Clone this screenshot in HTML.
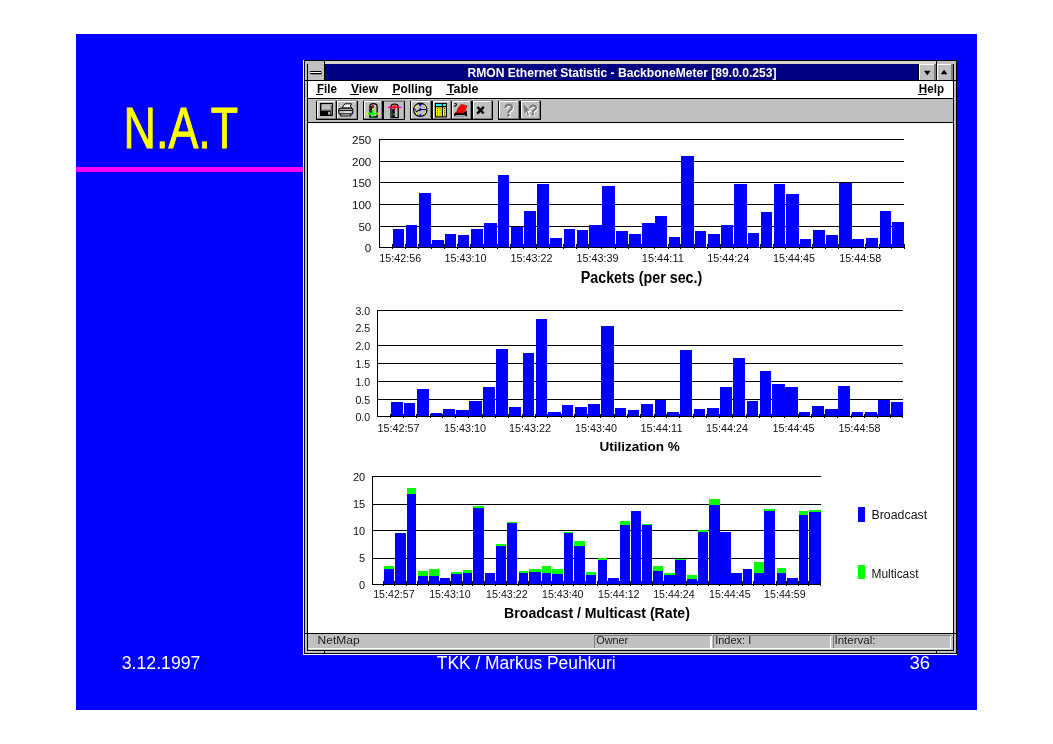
<!DOCTYPE html>
<html lang="en"><head><meta charset="utf-8"><title>N.A.T - RMON Ethernet Statistic</title>
<style>html,body{margin:0;padding:0;background:#fff;overflow:hidden}svg{display:block}text{font-family:"Liberation Sans",Arial,Helvetica,sans-serif;white-space:pre}</style></head><body>
<svg width="1053" height="744" viewBox="0 0 1053 744" shape-rendering="crispEdges">
<rect x="0" y="0" width="1053" height="744" fill="#fff" />
<rect x="76" y="34" width="901" height="676" fill="#0000ff" />
<text x="123.6" y="147.7" font-size="58" fill="#ffff00" font-weight="normal" text-anchor="start" textLength="114.5" lengthAdjust="spacingAndGlyphs" stroke="#ffff00" stroke-width="0.9" shape-rendering="auto">N.A.T</text>
<rect x="76" y="167" width="228" height="5" fill="#ff00ff" />
<text x="121.8" y="669.3" font-size="17.5" fill="#fff" font-weight="normal" text-anchor="start" textLength="78.6" lengthAdjust="spacingAndGlyphs" >3.12.1997</text>
<text x="436.8" y="669.3" font-size="17.5" fill="#fff" font-weight="normal" text-anchor="start" textLength="178.8" lengthAdjust="spacingAndGlyphs" >TKK / Markus Peuhkuri</text>
<text x="909.4" y="669.3" font-size="17.5" fill="#fff" font-weight="normal" text-anchor="start" textLength="20.6" lengthAdjust="spacingAndGlyphs" >36</text>
<rect x="303" y="60" width="654" height="595" fill="#fff" />
<rect x="304" y="60" width="653" height="594" fill="#000" />
<rect x="305" y="61" width="651" height="592" fill="#c0c0c0" />
<rect x="325" y="61" width="611" height="3" fill="#d6d6ce" />
<rect x="307" y="64" width="647" height="587" fill="#000" />
<rect x="305" y="80" width="2" height="1" fill="#000" />
<rect x="936" y="61" width="1" height="3" fill="#000" />
<rect x="324" y="61" width="1" height="3" fill="#000" />
<rect x="305" y="633" width="2" height="1" fill="#000" />
<rect x="936" y="651" width="1" height="2" fill="#000" />
<rect x="324" y="651" width="1" height="2" fill="#000" />
<rect x="954" y="633" width="2" height="1" fill="#000" />
<rect x="954" y="80" width="2" height="1" fill="#000" />
<rect x="308" y="64" width="645" height="16" fill="#000080" />
<rect x="308" y="61" width="16" height="19" fill="#c0c0c0" />
<rect x="324" y="64" width="1" height="16" fill="#000" />
<rect x="311" y="74" width="10.8" height="0.8" fill="#808080" />
<rect x="321.2" y="72" width="0.7" height="2.8" fill="#808080" />
<rect x="310.4" y="71.5" width="10.3" height="2" fill="#fff" stroke="#000" stroke-width="1" shape-rendering="auto"/>
<text x="622" y="77.4" font-size="13.2" fill="#fff" font-weight="bold" text-anchor="middle" textLength="309" lengthAdjust="spacingAndGlyphs" >RMON Ethernet Statistic - BackboneMeter [89.0.0.253]</text>
<rect x="918" y="64" width="1" height="16" fill="#000" />
<rect x="919" y="64" width="17" height="16" fill="#c0c0c0" />
<rect x="919" y="64" width="15.4" height="1.1" fill="#fff" />
<rect x="919" y="64" width="1.1" height="16" fill="#fff" />
<rect x="934.3" y="64" width="1.7" height="16" fill="#808080" />
<polygon points="924.0,70.8 930.5999999999999,70.8 927.3,75.2" fill="#000" shape-rendering="auto"/>
<rect x="936" y="64" width="1" height="16" fill="#000" />
<rect x="937" y="64" width="16" height="16" fill="#c0c0c0" />
<rect x="937" y="64" width="14.4" height="1.1" fill="#fff" />
<rect x="937" y="64" width="1.1" height="16" fill="#fff" />
<rect x="951.3" y="64" width="1.7" height="16" fill="#808080" />
<polygon points="940.8,74.2 947.3999999999999,74.2 944.0999999999999,69.8" fill="#000" shape-rendering="auto"/>
<rect x="308" y="81" width="645" height="17" fill="#fff" />
<text x="316.9" y="93" font-size="13.2" fill="#000" font-weight="bold" text-anchor="start" textLength="20" lengthAdjust="spacingAndGlyphs" >File</text>
<rect x="316.3" y="94.2" width="7" height="1" fill="#000" />
<text x="351" y="93" font-size="13.2" fill="#000" font-weight="bold" text-anchor="start" textLength="27" lengthAdjust="spacingAndGlyphs" >View</text>
<rect x="350.4" y="94.2" width="8.4" height="1" fill="#000" />
<text x="392.6" y="93" font-size="13.2" fill="#000" font-weight="bold" text-anchor="start" textLength="39.7" lengthAdjust="spacingAndGlyphs" >Polling</text>
<rect x="392" y="94.2" width="8.4" height="1" fill="#000" />
<text x="446.9" y="93" font-size="13.2" fill="#000" font-weight="bold" text-anchor="start" textLength="31.6" lengthAdjust="spacingAndGlyphs" >Table</text>
<rect x="446.3" y="94.2" width="8" height="1" fill="#000" />
<text x="918.8" y="93" font-size="13.2" fill="#000" font-weight="bold" text-anchor="start" textLength="25.2" lengthAdjust="spacingAndGlyphs" >Help</text>
<rect x="918.2" y="94.2" width="8.8" height="1" fill="#000" />
<rect x="308" y="99" width="645" height="23" fill="#c0c0c0" />
<rect x="308" y="123" width="645" height="510" fill="#fff" />
<rect x="308" y="634" width="645" height="16" fill="#c0c0c0" />
<rect x="308" y="648.2" width="643" height="1.2" fill="#fff" />
<rect x="594.4" y="634.6" width="117.2" height="1" fill="#808080" />
<rect x="594.4" y="634.6" width="1" height="13.6" fill="#808080" />
<rect x="710.4" y="635.6" width="1.2" height="13.6" fill="#fff" />
<rect x="713" y="634.6" width="118.2" height="1" fill="#808080" />
<rect x="713" y="634.6" width="1" height="13.6" fill="#808080" />
<rect x="830" y="635.6" width="1.2" height="13.6" fill="#fff" />
<rect x="832.6" y="634.6" width="118.4" height="1" fill="#808080" />
<rect x="832.6" y="634.6" width="1" height="13.6" fill="#808080" />
<rect x="949.8" y="635.6" width="1.2" height="13.6" fill="#fff" />
<text x="317.6" y="644.2" font-size="11" fill="#222" font-weight="normal" text-anchor="start" textLength="42" lengthAdjust="spacingAndGlyphs" >NetMap</text>
<text x="596.2" y="644.2" font-size="11" fill="#222" font-weight="normal" text-anchor="start" textLength="32" lengthAdjust="spacingAndGlyphs" >Owner</text>
<text x="715.2" y="644.2" font-size="11" fill="#222" font-weight="normal" text-anchor="start" textLength="36" lengthAdjust="spacingAndGlyphs" >Index: I</text>
<text x="834.5" y="644.2" font-size="11" fill="#222" font-weight="normal" text-anchor="start" textLength="41" lengthAdjust="spacingAndGlyphs" >Interval:</text>
<rect x="315.9" y="101" width="20.9" height="18.7" fill="#c0c0c0" />
<rect x="315.9" y="100" width="20.9" height="1" fill="#989898" />
<rect x="315.9" y="100.5" width="1" height="19.2" fill="#000" />
<rect x="335.8" y="100.5" width="1" height="19.2" fill="#000" />
<rect x="315.9" y="118.7" width="20.9" height="1" fill="#000" />
<rect x="316.9" y="101" width="17.9" height="1" fill="#fff" />
<rect x="316.9" y="101" width="1" height="16.7" fill="#fff" />
<rect x="334.8" y="101" width="1" height="17.7" fill="#808080" />
<rect x="316.9" y="117.7" width="18.9" height="1" fill="#808080" />
<rect x="335.8" y="101" width="22.1" height="18.7" fill="#c0c0c0" />
<rect x="335.8" y="100" width="22.1" height="1" fill="#989898" />
<rect x="335.8" y="100.5" width="1" height="19.2" fill="#000" />
<rect x="356.9" y="100.5" width="1" height="19.2" fill="#000" />
<rect x="335.8" y="118.7" width="22.1" height="1" fill="#000" />
<rect x="336.8" y="101" width="19.1" height="1" fill="#fff" />
<rect x="336.8" y="101" width="1" height="16.7" fill="#fff" />
<rect x="355.9" y="101" width="1" height="17.7" fill="#808080" />
<rect x="336.8" y="117.7" width="20.1" height="1" fill="#808080" />
<rect x="363.1" y="101" width="20.2" height="18.7" fill="#c0c0c0" />
<rect x="363.1" y="100" width="20.2" height="1" fill="#989898" />
<rect x="363.1" y="100.5" width="1" height="19.2" fill="#000" />
<rect x="382.3" y="100.5" width="1" height="19.2" fill="#000" />
<rect x="363.1" y="118.7" width="20.2" height="1" fill="#000" />
<rect x="364.1" y="101" width="17.2" height="1" fill="#fff" />
<rect x="364.1" y="101" width="1" height="16.7" fill="#fff" />
<rect x="381.3" y="101" width="1" height="17.7" fill="#808080" />
<rect x="364.1" y="117.7" width="18.2" height="1" fill="#808080" />
<rect x="383" y="101" width="22" height="18.7" fill="#c0c0c0" />
<rect x="383" y="100" width="22" height="1" fill="#989898" />
<rect x="383" y="100.5" width="1" height="19.2" fill="#000" />
<rect x="404" y="100.5" width="1" height="19.2" fill="#000" />
<rect x="383" y="118.7" width="22" height="1" fill="#000" />
<rect x="384" y="101" width="20" height="0.8" fill="#808080" />
<rect x="403" y="101" width="1" height="17.7" fill="#a0a0a0" />
<rect x="410.3" y="101" width="21.6" height="18.7" fill="#c0c0c0" />
<rect x="410.3" y="100" width="21.6" height="1" fill="#989898" />
<rect x="410.3" y="100.5" width="1" height="19.2" fill="#000" />
<rect x="430.9" y="100.5" width="1" height="19.2" fill="#000" />
<rect x="410.3" y="118.7" width="21.6" height="1" fill="#000" />
<rect x="411.3" y="101" width="18.6" height="1" fill="#fff" />
<rect x="411.3" y="101" width="1" height="16.7" fill="#fff" />
<rect x="429.9" y="101" width="1" height="17.7" fill="#808080" />
<rect x="411.3" y="117.7" width="19.6" height="1" fill="#808080" />
<rect x="431.9" y="101" width="20.3" height="18.7" fill="#c0c0c0" />
<rect x="431.9" y="100" width="20.3" height="1" fill="#989898" />
<rect x="431.9" y="100.5" width="1" height="19.2" fill="#000" />
<rect x="451.2" y="100.5" width="1" height="19.2" fill="#000" />
<rect x="431.9" y="118.7" width="20.3" height="1" fill="#000" />
<rect x="432.9" y="101" width="17.3" height="1" fill="#fff" />
<rect x="432.9" y="101" width="1" height="16.7" fill="#fff" />
<rect x="450.2" y="101" width="1" height="17.7" fill="#808080" />
<rect x="432.9" y="117.7" width="18.3" height="1" fill="#808080" />
<rect x="451.4" y="101" width="20.8" height="18.7" fill="#c0c0c0" />
<rect x="451.4" y="100" width="20.8" height="1" fill="#989898" />
<rect x="451.4" y="100.5" width="1" height="19.2" fill="#000" />
<rect x="471.2" y="100.5" width="1" height="19.2" fill="#000" />
<rect x="451.4" y="118.7" width="20.8" height="1" fill="#000" />
<rect x="452.4" y="101" width="17.8" height="1" fill="#fff" />
<rect x="452.4" y="101" width="1" height="16.7" fill="#fff" />
<rect x="470.2" y="101" width="1" height="17.7" fill="#808080" />
<rect x="452.4" y="117.7" width="18.8" height="1" fill="#808080" />
<rect x="472.1" y="101" width="20.6" height="18.7" fill="#c0c0c0" />
<rect x="472.1" y="100" width="20.6" height="1" fill="#989898" />
<rect x="472.1" y="100.5" width="1" height="19.2" fill="#000" />
<rect x="491.7" y="100.5" width="1" height="19.2" fill="#000" />
<rect x="472.1" y="118.7" width="20.6" height="1" fill="#000" />
<rect x="473.1" y="101" width="17.6" height="1" fill="#fff" />
<rect x="473.1" y="101" width="1" height="16.7" fill="#fff" />
<rect x="490.7" y="101" width="1" height="17.7" fill="#808080" />
<rect x="473.1" y="117.7" width="18.6" height="1" fill="#808080" />
<rect x="498.3" y="101" width="21.3" height="18.7" fill="#c0c0c0" />
<rect x="498.3" y="100" width="21.3" height="1" fill="#989898" />
<rect x="498.3" y="100.5" width="1" height="19.2" fill="#000" />
<rect x="518.6" y="100.5" width="1" height="19.2" fill="#000" />
<rect x="498.3" y="118.7" width="21.3" height="1" fill="#000" />
<rect x="499.3" y="101" width="18.3" height="1" fill="#fff" />
<rect x="499.3" y="101" width="1" height="16.7" fill="#fff" />
<rect x="517.6" y="101" width="1" height="17.7" fill="#808080" />
<rect x="499.3" y="117.7" width="19.3" height="1" fill="#808080" />
<rect x="520" y="101" width="20.8" height="18.7" fill="#c0c0c0" />
<rect x="520" y="100" width="20.8" height="1" fill="#989898" />
<rect x="520" y="100.5" width="1" height="19.2" fill="#000" />
<rect x="539.8" y="100.5" width="1" height="19.2" fill="#000" />
<rect x="520" y="118.7" width="20.8" height="1" fill="#000" />
<rect x="521" y="101" width="17.8" height="1" fill="#fff" />
<rect x="521" y="101" width="1" height="16.7" fill="#fff" />
<rect x="538.8" y="101" width="1" height="17.7" fill="#808080" />
<rect x="521" y="117.7" width="18.8" height="1" fill="#808080" />
<g shape-rendering="auto">
<rect x="320.6" y="103.5" width="11.7" height="12" fill="#808080" stroke="#000" stroke-width="1.1"/>
<rect x="321.9" y="104.3" width="8.7" height="4.7" fill="#c0c0c0" />
<rect x="321.2" y="109.6" width="9.6" height="1" fill="#c0c0c0" />
<rect x="321" y="110.6" width="9.6" height="4.8" fill="#000" />
<rect x="328.1" y="111.8" width="1.9" height="2.8" fill="#c0c0c0" />
<rect x="331.2" y="104.2" width="0.8" height="0.8" fill="#fff" />
<path d="M342.3,108 l1.2,-2.4 l1.4,-1.8 h6.6 l-1.2,2.2 l1.6,2 z" fill="#fff" stroke="#000" stroke-width="1"/>
<rect x="338.8" y="108.2" width="14" height="6" rx="1.8" fill="#c0c0c0" stroke="#000" stroke-width="1.1"/>
<path d="M339.4,110.4 h12.8" stroke="#000" stroke-width="1"/>
<rect x="340.8" y="113.9" width="10" height="2" fill="#fff" stroke="#000" stroke-width="1"/>
<rect x="344.6" y="111.6" width="5.3" height="1" fill="#fff" />
<path d="M369.9,117 v-11 q0,-2.4 3.6,-2.4 q3.6,0 3.6,2.4 v11 z" fill="#c0c0c0" stroke="#000" stroke-width="1.3"/>
<rect x="370.6" y="106" width="1.8" height="8" fill="#000" />
<rect x="372.3" y="105" width="1.6" height="3" fill="#c00000" />
<rect x="372" y="108.6" width="1.5" height="1.4" fill="#e0e000" />
<rect x="365.9" y="112.8" width="13.9" height="1.5" fill="#ffff00" />
<rect x="371.7" y="110" width="1.8" height="7.3" fill="#00ff00" />
<rect x="367.9" y="112.8" width="9.9" height="1.5" fill="#00ff00" />
<path d="M391,117.6 v-11 q0,-2.4 3.6,-2.4 q3.6,0 3.6,2.4 v11 z" fill="#c0c0c0" stroke="#000" stroke-width="1.3"/>
<rect x="392.2" y="109" width="2.6" height="8" fill="#000" />
<rect x="394" y="109.6" width="1" height="1" fill="#ff00ff" />
<rect x="393" y="113" width="2" height="2.4" fill="#008000" />
<rect x="387.9" y="106.6" width="13.4" height="1.5" fill="#ff00ff" />
<rect x="393.6" y="103.9" width="1.7" height="5.1" fill="#ff0000" />
<rect x="390" y="106.6" width="9.3" height="1.5" fill="#ff0000" />
<circle cx="420.3" cy="109.8" r="6.7" fill="#c0c0c0" stroke="#000" stroke-width="1.2"/>
<path d="M418.4,104 h3.8 l-1.9,2.7 z" fill="#0000ff"/>
<path d="M420.3,114 v2 M414.3,109.6 h1.7 M424.9,109.6 h1.4 M420.3,108 v3" stroke="#0000ff" stroke-width="1.4"/>
<path d="M416,105.4 l.9,.9 M424.7,105.4 l-.9,.9 M416,114.2 l.9,-.9 M424.7,114.2 l-.9,-.9 M414.8,107.2 h1 M414.8,112.2 h1 M425,107.2 h1 M425,112.2 h1" stroke="#ffff00" stroke-width="1.3"/>
<path d="M420.4,109.5 h4.8 M420.4,109.6 l-4.8,2.5" stroke="#000" stroke-width="1.1"/>
<rect x="435.4" y="103.5" width="11" height="13.4" fill="#ffff00" stroke="#000" stroke-width="1.1"/>
<rect x="436" y="103.9" width="5.9" height="2" fill="#00ffff" />
<rect x="443" y="103.9" width="3" height="2" fill="#00ffff" />
<path d="M442.4,103.4 v13.6 M435.4,106.6 h11" stroke="#000" stroke-width="1.1"/>
<path d="M437.6,108 v8.6 M440,108 v8.6 M444.6,108 v8.6" stroke="#000" stroke-width=".9" stroke-dasharray="1,1.2"/>
<path d="M454.2,116.2 v-2.4 l1.6,-1.6 l8,.4 l3,-2 l.4,5.6 z" fill="#000"/>
<path d="M456.2,113 l1.6,-4.6 l3.4,-4.2 l6,1.5 l-1.4,4 l-2.2,3.5 z" fill="#ff0000" stroke="#800000" stroke-width=".4"/>
<rect x="455.4" y="115" width="10" height="0.9" fill="#c0c0c0" />
<path d="M454.4,103.6 h2 v2 h-1.6 v1.6" stroke="#000" stroke-width=".9" fill="none"/>
<path d="M477.4,107 l6.2,6.4 M483.8,106.8 l-6.6,6.8" stroke="#000" stroke-width="2.4"/>
<text x="509.6" y="117" font-size="16" text-anchor="middle" fill="#fff" stroke="#fff" stroke-width=".6">?</text>
<text x="508.7" y="116.2" font-size="16" text-anchor="middle" fill="#808080" stroke="#787878" stroke-width=".8">?</text>
<path d="M524.2,104.6 l1,9.8 l1.6,-2.6 l1.8,4.2 l1.2,-.6 l-1.6,-4 l2.6,-.6 z" fill="#fff" transform="translate(.8,.8)"/>
<path d="M523.4,104.2 l1,9.8 l1.6,-2.6 l1.8,4.2 l1.2,-.6 l-1.6,-4 l2.6,-.6 z" fill="#808080"/>
<text x="533.8" y="115.8" font-size="14.5" text-anchor="middle" fill="#fff" stroke="#fff" stroke-width=".6">?</text>
<text x="533" y="115" font-size="14.5" text-anchor="middle" fill="#808080" stroke="#787878" stroke-width=".8">?</text>
</g>
<rect x="379" y="139" width="525.3" height="1.1" fill="#000" />
<rect x="379" y="161" width="525.3" height="1.1" fill="#000" />
<rect x="379" y="182.2" width="525.3" height="1.1" fill="#000" />
<rect x="379" y="204" width="525.3" height="1.1" fill="#000" />
<rect x="379" y="225.7" width="525.3" height="1.1" fill="#000" />
<rect x="379" y="246.7" width="525.3" height="1.1" fill="#000" />
<rect x="379" y="139" width="1.1" height="108.8" fill="#000" />
<rect x="392" y="244" width="1" height="4.6" fill="#000" />
<rect x="405" y="244" width="1" height="4.6" fill="#000" />
<rect x="418.3" y="244" width="1" height="4.6" fill="#000" />
<rect x="431.3" y="244" width="1" height="4.6" fill="#000" />
<rect x="444.2" y="244" width="1" height="4.6" fill="#000" />
<rect x="457.2" y="244" width="1" height="4.6" fill="#000" />
<rect x="470.2" y="244" width="1" height="4.6" fill="#000" />
<rect x="483.2" y="244" width="1" height="4.6" fill="#000" />
<rect x="497.2" y="244" width="1" height="4.6" fill="#000" />
<rect x="510.2" y="244" width="1" height="4.6" fill="#000" />
<rect x="523.2" y="244" width="1" height="4.6" fill="#000" />
<rect x="536.2" y="244" width="1" height="4.6" fill="#000" />
<rect x="549.1" y="244" width="1" height="4.6" fill="#000" />
<rect x="563.1" y="244" width="1" height="4.6" fill="#000" />
<rect x="576.1" y="244" width="1" height="4.6" fill="#000" />
<rect x="588.1" y="244" width="1" height="4.6" fill="#000" />
<rect x="601.1" y="244" width="1" height="4.6" fill="#000" />
<rect x="615.3" y="244" width="1" height="4.6" fill="#000" />
<rect x="628.3" y="244" width="1" height="4.6" fill="#000" />
<rect x="641.3" y="244" width="1" height="4.6" fill="#000" />
<rect x="654.1" y="244" width="1" height="4.6" fill="#000" />
<rect x="668.3" y="244" width="1" height="4.6" fill="#000" />
<rect x="680.3" y="244" width="1" height="4.6" fill="#000" />
<rect x="694.2" y="244" width="1" height="4.6" fill="#000" />
<rect x="707.2" y="244" width="1" height="4.6" fill="#000" />
<rect x="720.2" y="244" width="1" height="4.6" fill="#000" />
<rect x="733.2" y="244" width="1" height="4.6" fill="#000" />
<rect x="747.2" y="244" width="1" height="4.6" fill="#000" />
<rect x="760.2" y="244" width="1" height="4.6" fill="#000" />
<rect x="773.2" y="244" width="1" height="4.6" fill="#000" />
<rect x="785.1" y="244" width="1" height="4.6" fill="#000" />
<rect x="799.1" y="244" width="1" height="4.6" fill="#000" />
<rect x="812.1" y="244" width="1" height="4.6" fill="#000" />
<rect x="825.1" y="244" width="1" height="4.6" fill="#000" />
<rect x="838.3" y="244" width="1" height="4.6" fill="#000" />
<rect x="851" y="244" width="1" height="4.6" fill="#000" />
<rect x="865.3" y="244" width="1" height="4.6" fill="#000" />
<rect x="879.3" y="244" width="1" height="4.6" fill="#000" />
<rect x="891.2" y="244" width="1" height="4.6" fill="#000" />
<rect x="392.9" y="229.1" width="11" height="17.7" fill="#0000ff" />
<rect x="405.9" y="225.2" width="11" height="21.6" fill="#0000ff" />
<rect x="419.2" y="193.2" width="11.7" height="53.6" fill="#0000ff" />
<rect x="432.2" y="240.1" width="11.7" height="6.7" fill="#0000ff" />
<rect x="445.1" y="234.1" width="10.8" height="12.7" fill="#0000ff" />
<rect x="458.1" y="235.1" width="10.8" height="11.7" fill="#0000ff" />
<rect x="471.1" y="229.1" width="11.8" height="17.7" fill="#0000ff" />
<rect x="484.1" y="223.2" width="12.7" height="23.6" fill="#0000ff" />
<rect x="498.1" y="175.2" width="10.7" height="71.6" fill="#0000ff" />
<rect x="511.1" y="227.2" width="11.7" height="19.6" fill="#0000ff" />
<rect x="524.1" y="211.2" width="11.7" height="35.6" fill="#0000ff" />
<rect x="537.1" y="184.2" width="11.7" height="62.6" fill="#0000ff" />
<rect x="550" y="238.1" width="11.8" height="8.7" fill="#0000ff" />
<rect x="564" y="229.1" width="10.8" height="17.7" fill="#0000ff" />
<rect x="577" y="230.1" width="10.8" height="16.7" fill="#0000ff" />
<rect x="589" y="225.2" width="13" height="21.6" fill="#0000ff" />
<rect x="602" y="186.2" width="13" height="60.6" fill="#0000ff" />
<rect x="616.2" y="231.1" width="11.8" height="15.7" fill="#0000ff" />
<rect x="629.2" y="234.1" width="11.8" height="12.7" fill="#0000ff" />
<rect x="642.2" y="223.2" width="12.8" height="23.6" fill="#0000ff" />
<rect x="655" y="216.2" width="12" height="30.6" fill="#0000ff" />
<rect x="669.2" y="237.1" width="10.8" height="9.7" fill="#0000ff" />
<rect x="681.2" y="156" width="12.8" height="90.8" fill="#0000ff" />
<rect x="695.1" y="231.1" width="10.8" height="15.7" fill="#0000ff" />
<rect x="708.1" y="234.1" width="11.8" height="12.7" fill="#0000ff" />
<rect x="721.1" y="225.2" width="11.8" height="21.6" fill="#0000ff" />
<rect x="734.1" y="184" width="12.7" height="62.8" fill="#0000ff" />
<rect x="748.1" y="233.1" width="10.7" height="13.7" fill="#0000ff" />
<rect x="761.1" y="212.2" width="10.7" height="34.6" fill="#0000ff" />
<rect x="774.1" y="184" width="10.7" height="62.8" fill="#0000ff" />
<rect x="786" y="194.2" width="12.8" height="52.6" fill="#0000ff" />
<rect x="800" y="239.1" width="10.8" height="7.7" fill="#0000ff" />
<rect x="813" y="230.1" width="11.8" height="16.7" fill="#0000ff" />
<rect x="826" y="235.1" width="11.8" height="11.7" fill="#0000ff" />
<rect x="839.2" y="182.7" width="12.7" height="64.1" fill="#0000ff" />
<rect x="851.9" y="239.1" width="12" height="7.7" fill="#0000ff" />
<rect x="866.2" y="238.1" width="11.7" height="8.7" fill="#0000ff" />
<rect x="880.2" y="211.2" width="10.7" height="35.6" fill="#0000ff" />
<rect x="892.1" y="222.2" width="12" height="24.6" fill="#0000ff" />
<rect x="903.6" y="244" width="1" height="4.6" fill="#000" />
<text x="371.3" y="144" font-size="11.6" fill="#111" font-weight="normal" text-anchor="end" >250</text>
<text x="371.3" y="165.9" font-size="11.6" fill="#111" font-weight="normal" text-anchor="end" >200</text>
<text x="371.3" y="187.2" font-size="11.6" fill="#111" font-weight="normal" text-anchor="end" >150</text>
<text x="371.3" y="208.9" font-size="11.6" fill="#111" font-weight="normal" text-anchor="end" >100</text>
<text x="371.3" y="230.6" font-size="11.6" fill="#111" font-weight="normal" text-anchor="end" >50</text>
<text x="371.3" y="251.6" font-size="11.6" fill="#111" font-weight="normal" text-anchor="end" >0</text>
<text x="379.2" y="262" font-size="11.3" fill="#111" font-weight="normal" text-anchor="start" textLength="42" lengthAdjust="spacingAndGlyphs" >15:42:56</text>
<text x="444.4" y="262" font-size="11.3" fill="#111" font-weight="normal" text-anchor="start" textLength="42" lengthAdjust="spacingAndGlyphs" >15:43:10</text>
<text x="510.4" y="262" font-size="11.3" fill="#111" font-weight="normal" text-anchor="start" textLength="42" lengthAdjust="spacingAndGlyphs" >15:43:22</text>
<text x="576.6" y="262" font-size="11.3" fill="#111" font-weight="normal" text-anchor="start" textLength="42" lengthAdjust="spacingAndGlyphs" >15:43:39</text>
<text x="641.8" y="262" font-size="11.3" fill="#111" font-weight="normal" text-anchor="start" textLength="42" lengthAdjust="spacingAndGlyphs" >15:44:11</text>
<text x="707.2" y="262" font-size="11.3" fill="#111" font-weight="normal" text-anchor="start" textLength="42" lengthAdjust="spacingAndGlyphs" >15:44:24</text>
<text x="773" y="262" font-size="11.3" fill="#111" font-weight="normal" text-anchor="start" textLength="42" lengthAdjust="spacingAndGlyphs" >15:44:45</text>
<text x="839.2" y="262" font-size="11.3" fill="#111" font-weight="normal" text-anchor="start" textLength="42" lengthAdjust="spacingAndGlyphs" >15:44:58</text>
<text x="641.5" y="283.2" font-size="16" fill="#000" font-weight="bold" text-anchor="middle" textLength="121.5" lengthAdjust="spacingAndGlyphs" >Packets (per sec.)</text>
<rect x="377" y="310" width="526.2" height="1.1" fill="#000" />
<rect x="377" y="345" width="526.2" height="1.1" fill="#000" />
<rect x="377" y="363" width="526.2" height="1.1" fill="#000" />
<rect x="377" y="381" width="526.2" height="1.1" fill="#000" />
<rect x="377" y="399" width="526.2" height="1.1" fill="#000" />
<rect x="377" y="416.3" width="526.2" height="1.1" fill="#000" />
<rect x="377" y="310" width="1.1" height="107.3" fill="#000" />
<rect x="390.3" y="413.6" width="1" height="4.6" fill="#000" />
<rect x="403.3" y="413.6" width="1" height="4.6" fill="#000" />
<rect x="416.3" y="413.6" width="1" height="4.6" fill="#000" />
<rect x="430.3" y="413.6" width="1" height="4.6" fill="#000" />
<rect x="442.2" y="413.6" width="1" height="4.6" fill="#000" />
<rect x="455.2" y="413.6" width="1" height="4.6" fill="#000" />
<rect x="468.2" y="413.6" width="1" height="4.6" fill="#000" />
<rect x="482.2" y="413.6" width="1" height="4.6" fill="#000" />
<rect x="495.2" y="413.6" width="1" height="4.6" fill="#000" />
<rect x="508.2" y="413.6" width="1" height="4.6" fill="#000" />
<rect x="522.2" y="413.6" width="1" height="4.6" fill="#000" />
<rect x="535.2" y="413.6" width="1" height="4.6" fill="#000" />
<rect x="547.1" y="413.6" width="1" height="4.6" fill="#000" />
<rect x="561.1" y="413.6" width="1" height="4.6" fill="#000" />
<rect x="574.1" y="413.6" width="1" height="4.6" fill="#000" />
<rect x="587.1" y="413.6" width="1" height="4.6" fill="#000" />
<rect x="600.3" y="413.6" width="1" height="4.6" fill="#000" />
<rect x="614.3" y="413.6" width="1" height="4.6" fill="#000" />
<rect x="627.3" y="413.6" width="1" height="4.6" fill="#000" />
<rect x="640.3" y="413.6" width="1" height="4.6" fill="#000" />
<rect x="654.3" y="413.6" width="1" height="4.6" fill="#000" />
<rect x="666.3" y="413.6" width="1" height="4.6" fill="#000" />
<rect x="679.3" y="413.6" width="1" height="4.6" fill="#000" />
<rect x="693.2" y="413.6" width="1" height="4.6" fill="#000" />
<rect x="706.2" y="413.6" width="1" height="4.6" fill="#000" />
<rect x="719.2" y="413.6" width="1" height="4.6" fill="#000" />
<rect x="732.2" y="413.6" width="1" height="4.6" fill="#000" />
<rect x="746.2" y="413.6" width="1" height="4.6" fill="#000" />
<rect x="759.2" y="413.6" width="1" height="4.6" fill="#000" />
<rect x="771.2" y="413.6" width="1" height="4.6" fill="#000" />
<rect x="783.9" y="413.6" width="1" height="4.6" fill="#000" />
<rect x="798.1" y="413.6" width="1" height="4.6" fill="#000" />
<rect x="811.1" y="413.6" width="1" height="4.6" fill="#000" />
<rect x="824.1" y="413.6" width="1" height="4.6" fill="#000" />
<rect x="836.8" y="413.6" width="1" height="4.6" fill="#000" />
<rect x="851.3" y="413.6" width="1" height="4.6" fill="#000" />
<rect x="864.3" y="413.6" width="1" height="4.6" fill="#000" />
<rect x="877.3" y="413.6" width="1" height="4.6" fill="#000" />
<rect x="890.2" y="413.6" width="1" height="4.6" fill="#000" />
<rect x="391.2" y="402.1" width="11.7" height="14.3" fill="#0000ff" />
<rect x="404.2" y="403.1" width="10.7" height="13.3" fill="#0000ff" />
<rect x="417.2" y="389.2" width="11.7" height="27.2" fill="#0000ff" />
<rect x="431.2" y="413.1" width="10.7" height="3.3" fill="#0000ff" />
<rect x="443.1" y="409.1" width="11.8" height="7.3" fill="#0000ff" />
<rect x="456.1" y="410.1" width="12.8" height="6.3" fill="#0000ff" />
<rect x="469.1" y="401.1" width="12.8" height="15.3" fill="#0000ff" />
<rect x="483.1" y="387.2" width="11.7" height="29.2" fill="#0000ff" />
<rect x="496.1" y="349.2" width="11.7" height="67.2" fill="#0000ff" />
<rect x="509.1" y="407.1" width="11.7" height="9.3" fill="#0000ff" />
<rect x="523.1" y="353.2" width="10.7" height="63.2" fill="#0000ff" />
<rect x="536.1" y="319.2" width="10.7" height="97.2" fill="#0000ff" />
<rect x="548" y="412.1" width="12.8" height="4.3" fill="#0000ff" />
<rect x="562" y="405.1" width="10.8" height="11.3" fill="#0000ff" />
<rect x="575" y="407.1" width="11.8" height="9.3" fill="#0000ff" />
<rect x="588" y="404.1" width="12" height="12.3" fill="#0000ff" />
<rect x="601.2" y="326.2" width="12.8" height="90.2" fill="#0000ff" />
<rect x="615.2" y="408.1" width="10.8" height="8.3" fill="#0000ff" />
<rect x="628.2" y="410.1" width="10.8" height="6.3" fill="#0000ff" />
<rect x="641.2" y="404.1" width="11.7" height="12.3" fill="#0000ff" />
<rect x="655.2" y="400.1" width="10.7" height="16.3" fill="#0000ff" />
<rect x="667.2" y="412.1" width="11.7" height="4.3" fill="#0000ff" />
<rect x="680.2" y="350.2" width="11.7" height="66.2" fill="#0000ff" />
<rect x="694.1" y="409.1" width="10.8" height="7.3" fill="#0000ff" />
<rect x="707.1" y="408.1" width="11.8" height="8.3" fill="#0000ff" />
<rect x="720.1" y="387.2" width="11.8" height="29.2" fill="#0000ff" />
<rect x="733.1" y="358.2" width="11.7" height="58.2" fill="#0000ff" />
<rect x="747.1" y="401.1" width="10.7" height="15.3" fill="#0000ff" />
<rect x="760.1" y="371.2" width="10.7" height="45.2" fill="#0000ff" />
<rect x="772.1" y="384.2" width="12.7" height="32.2" fill="#0000ff" />
<rect x="784.8" y="387.2" width="13" height="29.2" fill="#0000ff" />
<rect x="799" y="412.1" width="10.8" height="4.3" fill="#0000ff" />
<rect x="812" y="406.1" width="11.8" height="10.3" fill="#0000ff" />
<rect x="825" y="409.1" width="12.7" height="7.3" fill="#0000ff" />
<rect x="837.7" y="386.2" width="12.1" height="30.2" fill="#0000ff" />
<rect x="852.2" y="412.1" width="10.7" height="4.3" fill="#0000ff" />
<rect x="865.2" y="412.1" width="11.7" height="4.3" fill="#0000ff" />
<rect x="878.2" y="399.9" width="11.7" height="16.5" fill="#0000ff" />
<rect x="891.1" y="402.1" width="11.8" height="14.3" fill="#0000ff" />
<rect x="902.4" y="413.6" width="1" height="4.6" fill="#000" />
<text x="370.2" y="314.7" font-size="11.3" fill="#111" font-weight="normal" text-anchor="end" textLength="14.8" lengthAdjust="spacingAndGlyphs" >3.0</text>
<text x="370.2" y="332.2" font-size="11.3" fill="#111" font-weight="normal" text-anchor="end" textLength="14.8" lengthAdjust="spacingAndGlyphs" >2.5</text>
<text x="370.2" y="349.7" font-size="11.3" fill="#111" font-weight="normal" text-anchor="end" textLength="14.8" lengthAdjust="spacingAndGlyphs" >2.0</text>
<text x="370.2" y="368.2" font-size="11.3" fill="#111" font-weight="normal" text-anchor="end" textLength="14.8" lengthAdjust="spacingAndGlyphs" >1.5</text>
<text x="370.2" y="385.6" font-size="11.3" fill="#111" font-weight="normal" text-anchor="end" textLength="14.8" lengthAdjust="spacingAndGlyphs" >1.0</text>
<text x="370.2" y="403.6" font-size="11.3" fill="#111" font-weight="normal" text-anchor="end" textLength="14.8" lengthAdjust="spacingAndGlyphs" >0.5</text>
<text x="370.2" y="421.1" font-size="11.3" fill="#111" font-weight="normal" text-anchor="end" textLength="14.8" lengthAdjust="spacingAndGlyphs" >0.0</text>
<text x="377.5" y="431.5" font-size="11.3" fill="#111" font-weight="normal" text-anchor="start" textLength="42" lengthAdjust="spacingAndGlyphs" >15:42:57</text>
<text x="444" y="431.5" font-size="11.3" fill="#111" font-weight="normal" text-anchor="start" textLength="42" lengthAdjust="spacingAndGlyphs" >15:43:10</text>
<text x="509" y="431.5" font-size="11.3" fill="#111" font-weight="normal" text-anchor="start" textLength="42" lengthAdjust="spacingAndGlyphs" >15:43:22</text>
<text x="575" y="431.5" font-size="11.3" fill="#111" font-weight="normal" text-anchor="start" textLength="42" lengthAdjust="spacingAndGlyphs" >15:43:40</text>
<text x="640.5" y="431.5" font-size="11.3" fill="#111" font-weight="normal" text-anchor="start" textLength="42" lengthAdjust="spacingAndGlyphs" >15:44:11</text>
<text x="706" y="431.5" font-size="11.3" fill="#111" font-weight="normal" text-anchor="start" textLength="42" lengthAdjust="spacingAndGlyphs" >15:44:24</text>
<text x="772.5" y="431.5" font-size="11.3" fill="#111" font-weight="normal" text-anchor="start" textLength="42" lengthAdjust="spacingAndGlyphs" >15:44:45</text>
<text x="838.5" y="431.5" font-size="11.3" fill="#111" font-weight="normal" text-anchor="start" textLength="42" lengthAdjust="spacingAndGlyphs" >15:44:58</text>
<text x="639.7" y="451.2" font-size="13.2" fill="#000" font-weight="bold" text-anchor="middle" textLength="80.4" lengthAdjust="spacingAndGlyphs" >Utilization %</text>
<rect x="371.8" y="475.7" width="449.2" height="1.1" fill="#000" />
<rect x="371.8" y="503.7" width="449.2" height="1.1" fill="#000" />
<rect x="371.8" y="530.2" width="449.2" height="1.1" fill="#000" />
<rect x="371.8" y="557.7" width="449.2" height="1.1" fill="#000" />
<rect x="371.8" y="583.9" width="449.2" height="1.1" fill="#000" />
<rect x="371.8" y="475.7" width="1.1" height="109.2" fill="#000" />
<rect x="383.3" y="581" width="1" height="4.8" fill="#000" />
<rect x="394.3" y="581" width="1" height="4.8" fill="#000" />
<rect x="406" y="581" width="1" height="4.8" fill="#000" />
<rect x="417" y="581" width="1" height="4.8" fill="#000" />
<rect x="428.3" y="581" width="1" height="4.8" fill="#000" />
<rect x="439.2" y="581" width="1" height="4.8" fill="#000" />
<rect x="450.2" y="581" width="1" height="4.8" fill="#000" />
<rect x="462.2" y="581" width="1" height="4.8" fill="#000" />
<rect x="472.2" y="581" width="1" height="4.8" fill="#000" />
<rect x="484.2" y="581" width="1" height="4.8" fill="#000" />
<rect x="495.2" y="581" width="1" height="4.8" fill="#000" />
<rect x="506.2" y="581" width="1" height="4.8" fill="#000" />
<rect x="518.2" y="581" width="1" height="4.8" fill="#000" />
<rect x="528.2" y="581" width="1" height="4.8" fill="#000" />
<rect x="541.1" y="581" width="1" height="4.8" fill="#000" />
<rect x="551.1" y="581" width="1" height="4.8" fill="#000" />
<rect x="563.1" y="581" width="1" height="4.8" fill="#000" />
<rect x="573.1" y="581" width="1" height="4.8" fill="#000" />
<rect x="585.1" y="581" width="1" height="4.8" fill="#000" />
<rect x="597.1" y="581" width="1" height="4.8" fill="#000" />
<rect x="607.3" y="581" width="1" height="4.8" fill="#000" />
<rect x="619.3" y="581" width="1" height="4.8" fill="#000" />
<rect x="630.3" y="581" width="1" height="4.8" fill="#000" />
<rect x="641.3" y="581" width="1" height="4.8" fill="#000" />
<rect x="652.3" y="581" width="1" height="4.8" fill="#000" />
<rect x="663.3" y="581" width="1" height="4.8" fill="#000" />
<rect x="674" y="581" width="1" height="4.8" fill="#000" />
<rect x="686.2" y="581" width="1" height="4.8" fill="#000" />
<rect x="697.2" y="581" width="1" height="4.8" fill="#000" />
<rect x="708.2" y="581" width="1" height="4.8" fill="#000" />
<rect x="719" y="581" width="1" height="4.8" fill="#000" />
<rect x="730" y="581" width="1" height="4.8" fill="#000" />
<rect x="742.2" y="581" width="1" height="4.8" fill="#000" />
<rect x="753.2" y="581" width="1" height="4.8" fill="#000" />
<rect x="762.9" y="581" width="1" height="4.8" fill="#000" />
<rect x="776.2" y="581" width="1" height="4.8" fill="#000" />
<rect x="786.2" y="581" width="1" height="4.8" fill="#000" />
<rect x="798.1" y="581" width="1" height="4.8" fill="#000" />
<rect x="808.1" y="581" width="1" height="4.8" fill="#000" />
<rect x="384.2" y="566.1" width="9.7" height="3.2" fill="#00ff00" />
<rect x="384.2" y="569.1" width="9.7" height="14.9" fill="#0000ff" />
<rect x="395.2" y="532.9" width="10.7" height="51.1" fill="#0000ff" />
<rect x="406.9" y="488" width="9" height="6.4" fill="#00ff00" />
<rect x="406.9" y="494.2" width="9" height="89.8" fill="#0000ff" />
<rect x="417.9" y="571.1" width="10" height="5.2" fill="#00ff00" />
<rect x="417.9" y="576.1" width="10" height="7.9" fill="#0000ff" />
<rect x="429.2" y="569.1" width="9.7" height="7.2" fill="#00ff00" />
<rect x="429.2" y="576.1" width="9.7" height="7.9" fill="#0000ff" />
<rect x="440.1" y="578.1" width="9.8" height="5.9" fill="#0000ff" />
<rect x="451.1" y="572.1" width="10.8" height="2.2" fill="#00ff00" />
<rect x="451.1" y="574.1" width="10.8" height="9.9" fill="#0000ff" />
<rect x="463.1" y="570.1" width="8.8" height="3.2" fill="#00ff00" />
<rect x="463.1" y="573.1" width="8.8" height="10.9" fill="#0000ff" />
<rect x="473.1" y="506" width="10.8" height="2.2" fill="#00ff00" />
<rect x="473.1" y="508" width="10.8" height="76" fill="#0000ff" />
<rect x="485.1" y="573.1" width="9.7" height="10.9" fill="#0000ff" />
<rect x="496.1" y="543.9" width="9.7" height="2.2" fill="#00ff00" />
<rect x="496.1" y="545.9" width="9.7" height="38.1" fill="#0000ff" />
<rect x="507.1" y="521.9" width="9.7" height="1.2" fill="#00ff00" />
<rect x="507.1" y="522.9" width="9.7" height="61.1" fill="#0000ff" />
<rect x="519.1" y="571.1" width="8.7" height="2.2" fill="#00ff00" />
<rect x="519.1" y="573.1" width="8.7" height="10.9" fill="#0000ff" />
<rect x="529.1" y="569.1" width="11.7" height="3.2" fill="#00ff00" />
<rect x="529.1" y="572.1" width="11.7" height="11.9" fill="#0000ff" />
<rect x="542" y="566.1" width="8.8" height="7.2" fill="#00ff00" />
<rect x="542" y="573.1" width="8.8" height="10.9" fill="#0000ff" />
<rect x="552" y="569.1" width="10.8" height="5.2" fill="#00ff00" />
<rect x="552" y="574.1" width="10.8" height="9.9" fill="#0000ff" />
<rect x="564" y="531.9" width="8.8" height="1.2" fill="#00ff00" />
<rect x="564" y="532.9" width="8.8" height="51.1" fill="#0000ff" />
<rect x="574" y="541.2" width="10.8" height="4.9" fill="#00ff00" />
<rect x="574" y="545.9" width="10.8" height="38.1" fill="#0000ff" />
<rect x="586" y="572.1" width="9.7" height="3.2" fill="#00ff00" />
<rect x="586" y="575.1" width="9.7" height="8.9" fill="#0000ff" />
<rect x="598" y="557.9" width="9" height="2.5" fill="#00ff00" />
<rect x="598" y="560.2" width="9" height="23.8" fill="#0000ff" />
<rect x="608.2" y="578.1" width="10.8" height="5.9" fill="#0000ff" />
<rect x="620.2" y="520.9" width="9.8" height="4.2" fill="#00ff00" />
<rect x="620.2" y="524.9" width="9.8" height="59.1" fill="#0000ff" />
<rect x="631.2" y="511" width="9.7" height="73" fill="#0000ff" />
<rect x="642.2" y="523.9" width="9.7" height="1.2" fill="#00ff00" />
<rect x="642.2" y="524.9" width="9.7" height="59.1" fill="#0000ff" />
<rect x="653.2" y="566.1" width="9.7" height="5.2" fill="#00ff00" />
<rect x="653.2" y="571.1" width="9.7" height="12.9" fill="#0000ff" />
<rect x="664.2" y="573.1" width="10.7" height="2.2" fill="#00ff00" />
<rect x="664.2" y="575.1" width="10.7" height="8.9" fill="#0000ff" />
<rect x="674.9" y="559.2" width="11" height="1.2" fill="#00ff00" />
<rect x="674.9" y="560.2" width="11" height="23.8" fill="#0000ff" />
<rect x="687.1" y="575.1" width="9.8" height="4.2" fill="#00ff00" />
<rect x="687.1" y="579.1" width="9.8" height="4.9" fill="#0000ff" />
<rect x="698.1" y="529.9" width="9.8" height="2.2" fill="#00ff00" />
<rect x="698.1" y="531.9" width="9.8" height="52.1" fill="#0000ff" />
<rect x="709.1" y="499" width="10.8" height="6.2" fill="#00ff00" />
<rect x="709.1" y="505" width="10.8" height="79" fill="#0000ff" />
<rect x="719.9" y="531.9" width="11" height="52.1" fill="#0000ff" />
<rect x="730.9" y="573.1" width="10.9" height="10.9" fill="#0000ff" />
<rect x="743.1" y="569.1" width="8.7" height="14.9" fill="#0000ff" />
<rect x="754.1" y="562.2" width="9.7" height="11.1" fill="#00ff00" />
<rect x="754.1" y="573.1" width="9.7" height="10.9" fill="#0000ff" />
<rect x="763.8" y="509" width="11" height="2.2" fill="#00ff00" />
<rect x="763.8" y="511" width="11" height="73" fill="#0000ff" />
<rect x="777.1" y="568.1" width="8.7" height="5.2" fill="#00ff00" />
<rect x="777.1" y="573.1" width="8.7" height="10.9" fill="#0000ff" />
<rect x="787.1" y="578.1" width="10.7" height="5.9" fill="#0000ff" />
<rect x="799" y="511" width="8.8" height="4.2" fill="#00ff00" />
<rect x="799" y="515" width="8.8" height="69" fill="#0000ff" />
<rect x="809" y="510" width="11.8" height="2.2" fill="#00ff00" />
<rect x="809" y="512" width="11.8" height="72" fill="#0000ff" />
<rect x="820.4" y="580.6" width="1" height="5.2" fill="#000" />
<text x="365.2" y="480.6" font-size="11" fill="#111" font-weight="normal" text-anchor="end" >20</text>
<text x="365.2" y="508.4" font-size="11" fill="#111" font-weight="normal" text-anchor="end" >15</text>
<text x="365.2" y="535" font-size="11" fill="#111" font-weight="normal" text-anchor="end" >10</text>
<text x="365.2" y="562.4" font-size="11" fill="#111" font-weight="normal" text-anchor="end" >5</text>
<text x="365.2" y="588.6" font-size="11" fill="#111" font-weight="normal" text-anchor="end" >0</text>
<text x="373.2" y="597.8" font-size="10.3" fill="#111" font-weight="normal" text-anchor="start" textLength="41.5" lengthAdjust="spacingAndGlyphs" >15:42:57</text>
<text x="429.2" y="597.8" font-size="10.3" fill="#111" font-weight="normal" text-anchor="start" textLength="41.5" lengthAdjust="spacingAndGlyphs" >15:43:10</text>
<text x="486.1" y="597.8" font-size="10.3" fill="#111" font-weight="normal" text-anchor="start" textLength="41.5" lengthAdjust="spacingAndGlyphs" >15:43:22</text>
<text x="542" y="597.8" font-size="10.3" fill="#111" font-weight="normal" text-anchor="start" textLength="41.5" lengthAdjust="spacingAndGlyphs" >15:43:40</text>
<text x="598" y="597.8" font-size="10.3" fill="#111" font-weight="normal" text-anchor="start" textLength="41.5" lengthAdjust="spacingAndGlyphs" >15:44:12</text>
<text x="653.2" y="597.8" font-size="10.3" fill="#111" font-weight="normal" text-anchor="start" textLength="41.5" lengthAdjust="spacingAndGlyphs" >15:44:24</text>
<text x="709.1" y="597.8" font-size="10.3" fill="#111" font-weight="normal" text-anchor="start" textLength="41.5" lengthAdjust="spacingAndGlyphs" >15:44:45</text>
<text x="764.1" y="597.8" font-size="10.3" fill="#111" font-weight="normal" text-anchor="start" textLength="41.5" lengthAdjust="spacingAndGlyphs" >15:44:59</text>
<text x="597" y="618.4" font-size="14.2" fill="#000" font-weight="bold" text-anchor="middle" textLength="185.8" lengthAdjust="spacingAndGlyphs" >Broadcast / Multicast (Rate)</text>
<rect x="858.1" y="506.9" width="6.8" height="15.1" fill="#0000ff" />
<rect x="858.1" y="565" width="6.8" height="13.5" fill="#00ff00" />
<text x="871.5" y="518.8" font-size="12" fill="#111" font-weight="normal" text-anchor="start" textLength="55.6" lengthAdjust="spacingAndGlyphs" >Broadcast</text>
<text x="871.5" y="577.8" font-size="12" fill="#111" font-weight="normal" text-anchor="start" textLength="47" lengthAdjust="spacingAndGlyphs" >Multicast</text>
</svg></body></html>
